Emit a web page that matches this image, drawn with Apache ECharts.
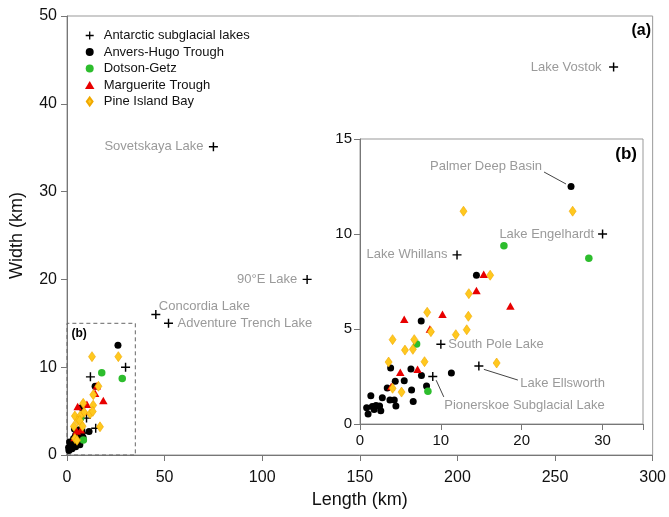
<!DOCTYPE html>
<html>
<head>
    <meta charset="utf-8">
    <title>Subglacial lakes and basins: length vs width</title>
    <script src="https://cdn.jsdelivr.net/npm/echarts@6.0.0/dist/echarts.min.js"></script>
    <style>
        html, body { margin: 0; padding: 0; background: #fff; }
        #main { width: 669px; height: 517px; }
    </style>
</head>
<body>
<div id="main"></div>
<script>
// Antarctic subglacial lakes (length km, width km)
const lakeNames = ['Lake Vostok', 'Sovetskaya Lake', '90°E Lake', 'Concordia Lake', 'Adventure Trench Lake',
    'Lake Engelhardt', 'Lake Whillans', 'South Pole Lake', 'Lake Ellsworth', 'Pionerskoe Subglacial Lake'];
const lakeLength = [280, 75, 123, 45.5, 52, 30, 12, 10, 14.7, 9];
const lakeWidth = [44.2, 35.1, 20, 16, 15, 10, 8.9, 4.2, 3.05, 2.5];

// basins [length, width]; first Anvers-Hugo point is Palmer Deep Basin
const anversHugo = [
    [26.1, 12.5], [14.4, 7.83], [7.57, 5.42], [3.79, 2.95], [6.3, 2.89], [11.3, 2.68],
    [7.6, 2.55], [4.36, 2.25], [5.47, 2.28], [3.37, 1.89], [6.38, 1.79], [8.23, 2.0],
    [6.58, 1.18], [1.34, 1.49], [2.76, 1.38], [3.7, 1.26], [4.24, 1.26], [4.44, 0.95],
    [0.82, 0.85], [1.52, 0.92], [1.98, 0.98], [2.42, 0.95], [2.57, 0.7], [1.0, 0.52],
    [1.75, 0.76]
];
const dotsonGetz = [[17.8, 9.38], [28.3, 8.72], [7.0, 4.21], [8.4, 1.72]];
const margueriteTrough = [
    [15.3, 7.88], [14.4, 7.03], [18.6, 6.21], [5.47, 5.51], [10.2, 5.77],
    [8.64, 5.0], [4.98, 2.72], [7.12, 2.88], [3.86, 1.98]
];
const pineIslandBay = [
    [12.8, 11.2], [26.3, 11.2], [16.1, 7.83], [13.46, 6.86], [8.31, 5.88], [13.4, 5.67],
    [8.77, 4.86], [11.85, 4.7], [13.2, 4.96], [4.03, 4.44], [6.71, 4.44], [5.56, 3.89],
    [6.54, 3.93], [3.54, 3.26], [7.98, 3.28], [16.9, 3.21], [4.03, 1.88], [5.14, 1.68]
];

const mainXTicks = [0, 300, 50];   // min, max, interval
const mainYTicks = [0, 50, 10];
const insetXTicks = [0, 35, 10];
const insetYTicks = [0, 15, 5];

const FONT = 'Liberation Sans, Arial, sans-serif';
const PLUS = 'path://M4.2,0H5.8V4.2H10V5.8H5.8V10H4.2V5.8H0V4.2H4.2Z';

const lakePoints = lakeNames.map((n, i) => ({ name: n, value: [lakeLength[i], lakeWidth[i]] }));
const annoPoints = lakePoints.concat([{ name: 'Palmer Deep Basin', value: anversHugo[0] }]);

// label placement (pixel offsets from the point)
const mainLabels = {
    'Lake Vostok': { dx: -12, dy: 0, align: 'right' },
    'Sovetskaya Lake': { dx: -10, dy: 0, align: 'right' },
    '90°E Lake': { dx: -10, dy: 0, align: 'right' },
    'Concordia Lake': { dx: 3, dy: -8, align: 'left' },
    'Adventure Trench Lake': { dx: 9, dy: 0.5, align: 'left' }
};
const insetLabels = {
    'Palmer Deep Basin': { dx: -29, dy: -20, align: 'right', line: [-27, -14.5, -5, -2.5] },
    'Lake Engelhardt': { dx: -8.5, dy: 0, align: 'right' },
    'Lake Whillans': { dx: -9.5, dy: 0, align: 'right' },
    'South Pole Lake': { dx: 7.5, dy: 0, align: 'left' },
    'Lake Ellsworth': { dx: 41.5, dy: 17.5, align: 'left', line: [5, 3.3, 39, 14] },
    'Pionerskoe Subglacial Lake': { dx: 11.5, dy: 28.5, align: 'left', line: [3.4, 3.7, 11, 20.4] }
};

const groups = [
    { name: 'Antarctic subglacial lakes', data: lakePoints, symbol: PLUS, size: 9, color: '#000', icon: PLUS },
    { name: 'Anvers-Hugo Trough', data: anversHugo, symbol: 'circle', size: 7, color: '#000', icon: 'circle' },
    { name: 'Dotson-Getz', data: dotsonGetz, symbol: 'circle', size: 7.5, color: '#2dbd2d', icon: 'circle' },
    { name: 'Marguerite Trough', data: margueriteTrough, symbol: 'triangle', size: [8.5, 7.5], color: '#e80000',
      icon: 'path://M5,0L10,8.5L0,8.5Z' },
    { name: 'Pine Island Bay', data: pineIslandBay, symbol: 'diamond', size: [7, 10], color: '#ffc81e',
      border: '#f0a800', icon: 'path://M5,0L10,7L5,14L0,7Z' }
];

function axisCommon(ticks, fontSize, margin) {
    return {
        type: 'value', min: ticks[0], max: ticks[1], interval: ticks[2],
        splitLine: { show: false },
        axisLine: { show: true, lineStyle: { color: '#777', width: 1 } },
        axisTick: { show: true, inside: false, length: 6, lineStyle: { color: '#777' } },
        axisLabel: {
            color: '#111', fontSize: fontSize, fontFamily: FONT, margin: margin,
            formatter: v => (v === ticks[1] && ticks[1] % ticks[2] !== 0) ? '' : String(v)
        }
    };
}

function annoSeries(gridIdx, placement) {
    const pts = annoPoints.filter(p => placement[p.name]);
    return {
        type: 'custom', xAxisIndex: gridIdx, yAxisIndex: gridIdx, silent: true, z: 8,
        data: pts.map(p => p.value),
        renderItem: function (params, api) {
            const name = pts[params.dataIndex].name;
            const cfg = placement[name];
            const p = api.coord([api.value(0), api.value(1)]);
            const children = [{
                type: 'text', x: p[0] + cfg.dx, y: p[1] + cfg.dy,
                style: {
                    text: name, fill: '#9a9a9a', fontSize: 13, fontFamily: FONT,
                    align: cfg.align, verticalAlign: 'middle'
                }
            }];
            if (cfg.line) {
                children.push({
                    type: 'line',
                    shape: { x1: p[0] + cfg.line[0], y1: p[1] + cfg.line[1], x2: p[0] + cfg.line[2], y2: p[1] + cfg.line[3] },
                    style: { stroke: '#444', lineWidth: 1 }
                });
            }
            return { type: 'group', children: children };
        }
    };
}

const series = [];
[0, 1].forEach(gi => {
    groups.forEach((g, k) => {
        const s = {
            name: g.name, type: 'scatter', xAxisIndex: gi, yAxisIndex: gi,
            data: g.data, symbol: g.symbol, symbolSize: g.size,
            itemStyle: { color: g.color, borderColor: g.border || g.color, borderWidth: g.border ? 0.6 : 0, opacity: 1 },
            emphasis: { disabled: true },
            z: (gi === 0 ? 2 : 5) + k * 0.1
        };
        if (gi === 0 && k === 0) {
            s.markArea = {
                silent: true,
                itemStyle: { color: 'rgba(0,0,0,0)', borderColor: '#666', borderWidth: 1, borderType: [4, 3] },
                label: { show: true, position: 'insideTopLeft', distance: 5, formatter: '(b)',
                    fontWeight: 'bold', fontSize: 12, color: '#000', fontFamily: FONT },
                data: [[{ coord: [0, 0] }, { coord: [35, 15] }]]
            };
        }
        series.push(s);
    });
});
series.push(annoSeries(0, mainLabels));
series.push(annoSeries(1, insetLabels));

const chart = echarts.init(document.getElementById('main'), null, { renderer: 'canvas' });

chart.setOption({
    animation: false,
    backgroundColor: '#fff',
    textStyle: { fontFamily: FONT },
    grid: [
        { left: 67, top: 16, width: 590, height: 439, show: true, borderColor: '#999', borderWidth: 1, backgroundColor: '#fff' },
        { left: 360, top: 139, width: 283, height: 285, show: true, borderColor: '#999', borderWidth: 1, backgroundColor: '#fff', z: 3 }
    ],
    xAxis: [
        Object.assign(axisCommon(mainXTicks, 16, 15), {
            gridIndex: 0, name: 'Length (km)', nameLocation: 'middle', nameGap: 34,
            nameTextStyle: { fontSize: 18, color: '#111', fontFamily: FONT }
        }),
        Object.assign(axisCommon(insetXTicks, 15, 9), { gridIndex: 1, z: 4 })
    ],
    yAxis: [
        Object.assign(axisCommon(mainYTicks, 16, 10), {
            gridIndex: 0, name: 'Width (km)', nameLocation: 'middle', nameGap: 41,
            nameTextStyle: { fontSize: 18, color: '#111', fontFamily: FONT }
        }),
        Object.assign(axisCommon(insetYTicks, 15, 8), { gridIndex: 1, z: 4 })
    ],
    legend: {
        orient: 'vertical', left: 80, top: 24, itemWidth: 18, itemHeight: 8, itemGap: 3.5,
        selectedMode: false,
        textStyle: { fontSize: 13, color: '#111', fontFamily: FONT },
        data: groups.map(g => ({ name: g.name, icon: g.icon }))
    },
    graphic: [
        { type: 'text', right: 18, top: 23, style: { text: '(a)', font: 'bold 16px ' + FONT, fill: '#000' } },
        { type: 'text', right: 32, top: 146, z: 10, style: { text: '(b)', font: 'bold 17px ' + FONT, fill: '#000' } }
    ],
    series: series
});
</script>
</body>
</html>
